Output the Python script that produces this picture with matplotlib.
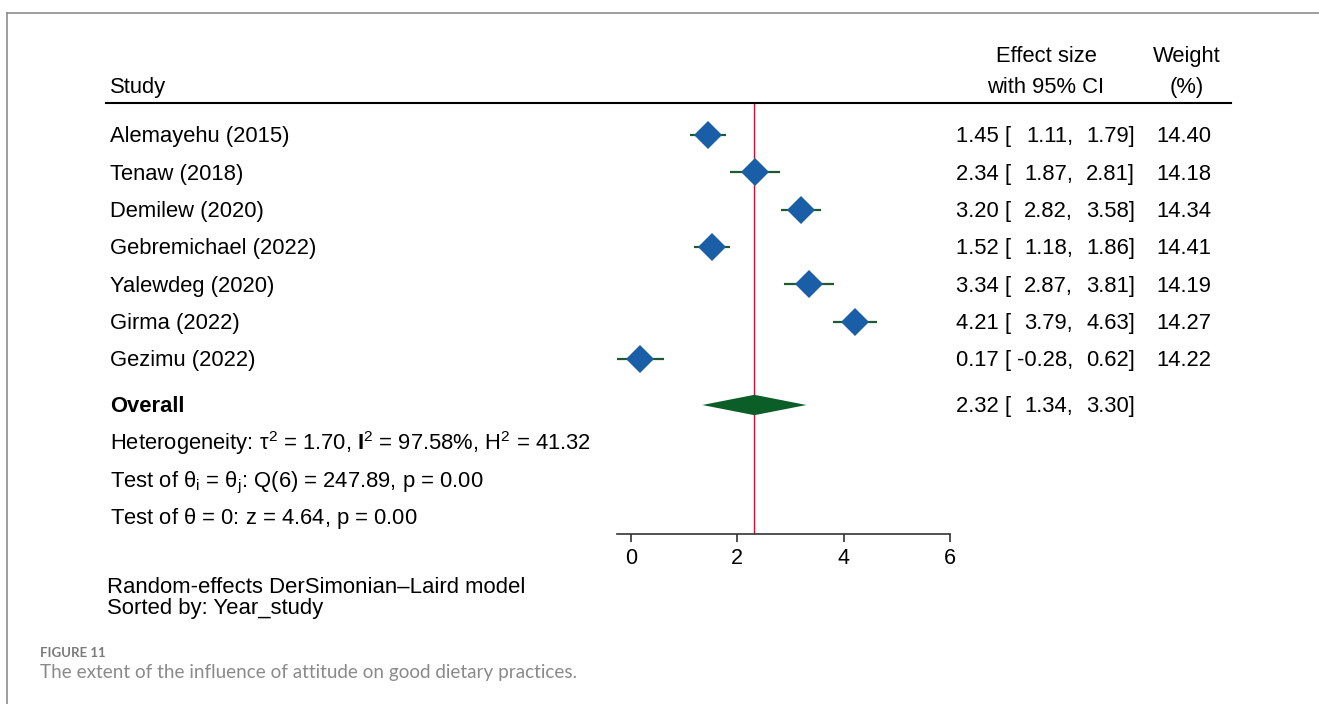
import matplotlib
matplotlib.use("Agg")
import matplotlib.pyplot as plt
from matplotlib.lines import Line2D
from matplotlib.patches import Polygon
from matplotlib.transforms import blended_transform_factory

plt.rcParams['font.family'] = ['Liberation Sans', 'DejaVu Sans']
plt.rcParams['mathtext.fontset'] = 'custom'
plt.rcParams['mathtext.rm'] = 'Liberation Sans'
plt.rcParams['mathtext.it'] = 'Liberation Sans'
plt.rcParams['mathtext.bf'] = 'Liberation Sans:bold'

# ---------------- data ----------------
studies = ["Alemayehu (2015)", "Tenaw (2018)", "Demilew (2020)", "Gebremichael (2022)",
           "Yalewdeg (2020)", "Girma (2022)", "Gezimu (2022)"]
effect = [1.45, 2.34, 3.20, 1.52, 3.34, 4.21, 0.17]
lower = [1.11, 1.87, 2.82, 1.18, 2.87, 3.79, -0.28]
upper = [1.79, 2.81, 3.58, 1.86, 3.81, 4.63, 0.62]
weight = [14.40, 14.18, 14.34, 14.41, 14.19, 14.27, 14.22]
overall = (2.32, 1.34, 3.30)
het_lines = [r"Heterogeneity: $\mathrm{\tau}^{2}$ = 1.70, $\mathbf{I}^{2}$ = 97.58%, $\mathrm{H}^{2}$ = 41.32",
             r"Test of $\mathrm{\theta}_{i}$ = $\mathrm{\theta}_{j}$: Q(6) = 247.89, p = 0.00",
             r"Test of $\mathrm{\theta}$ = 0: z = 4.64, p = 0.00"]
xticks = [0, 2, 4, 6]
footer = ["Random-effects DerSimonian\u2013Laird model", "Sorted by: Year_study"]
caption_title = "FIGURE 11"
caption_text = "The extent of the influence of attitude on good dietary practices."

# ---------------- layout ----------------
W, H = 1319, 704
fig = plt.figure(figsize=(W / 100, H / 100), dpi=100)

ROW0, ROWSTEP = 135.0, 37.33       # pixel y of first study row, spacing
def py(p):                          # image pixel y -> row units
    return (p - ROW0) / ROWSTEP

ax_left, ax_right = 616.7, 950.0
ax_top, ax_bot = 103.0, 534.0
ax = fig.add_axes([ax_left / W, 1 - ax_bot / H, (ax_right - ax_left) / W, (ax_bot - ax_top) / H])
ax.set_xlim(-0.27, 6.0)
ax.set_ylim(py(ax_bot), py(ax_top))
for s in ['top', 'left', 'right']:
    ax.spines[s].set_visible(False)
ax.spines['bottom'].set_color('#333333')
ax.spines['bottom'].set_linewidth(1.2)
ax.set_yticks([])
ax.set_xticks(xticks)
ax.set_xticklabels([str(t) for t in xticks])
ax.tick_params(axis='x', length=6, width=1.2, color='#333333', labelsize=15.5, pad=4)

fs = 15.8
BOFF = 0.2
tr = blended_transform_factory(fig.transFigure, ax.transData)
def fx(p):
    return p / W

# reference line at overall effect
ax.axvline(overall[0], color='#d0103a', lw=1.0, zorder=1)

# study rows
rows = list(range(len(studies)))
for i, (name, e, lo, hi, w) in enumerate(zip(studies, effect, lower, upper, weight)):
    y = rows[i]
    ax.plot([lo, hi], [y, y], color='#1e5b2f', lw=1.6, zorder=2, solid_capstyle='butt')
    ax.plot([e], [y], marker='D', color='#1b5ea8', markersize=14, markeredgewidth=0, zorder=3)
    base = y + BOFF
    ax.text(fx(110), base, name, transform=tr, fontsize=fs, va='baseline', ha='left')
    ax.text(fx(956), base, f"{e:.2f} [", transform=tr, fontsize=fs, va='baseline', ha='left')
    ax.text(fx(1073), base, f"{lo:.2f},", transform=tr, fontsize=fs, va='baseline', ha='right')
    ax.text(fx(1135), base, f"{hi:.2f}]", transform=tr, fontsize=fs, va='baseline', ha='right')
    ax.text(fx(1211), base, f"{w:.2f}", transform=tr, fontsize=fs, va='baseline', ha='right')

# overall diamond
yo = py(405)
half = py(405 + 10.2) - yo
oe, olo, ohi = overall
ax.add_patch(Polygon([[olo, yo], [oe, yo - half], [ohi, yo], [oe, yo + half]],
                     closed=True, facecolor='#0b5e28', edgecolor='none', zorder=3))
ob = yo + BOFF
ax.text(fx(110), ob, "Overall", transform=tr, fontsize=fs, va='baseline', ha='left', fontweight='bold')
ax.text(fx(956), ob, f"{oe:.2f} [", transform=tr, fontsize=fs, va='baseline', ha='left')
ax.text(fx(1073), ob, f"{olo:.2f},", transform=tr, fontsize=fs, va='baseline', ha='right')
ax.text(fx(1135), ob, f"{ohi:.2f}]", transform=tr, fontsize=fs, va='baseline', ha='right')

# heterogeneity lines
for k, txt in enumerate(het_lines):
    ax.text(fx(110), py(450 + k * 37), txt, transform=tr, fontsize=fs, va='baseline', ha='left')

# headers
ax.text(fx(110), py(93), "Study", transform=tr, fontsize=fs, va='baseline', ha='left')
ax.text(fx(1046), py(62), "Effect size", transform=tr, fontsize=fs, va='baseline', ha='center')
ax.text(fx(1046), py(93), "with 95% CI", transform=tr, fontsize=fs, va='baseline', ha='center')
ax.text(fx(1187), py(62), "Weight", transform=tr, fontsize=fs, va='baseline', ha='center')
ax.text(fx(1187), py(93), "(%)", transform=tr, fontsize=fs, va='baseline', ha='center')
fig.add_artist(Line2D([fx(106), fx(1231)], [1 - 103 / H, 1 - 103 / H], color='black', lw=1.5,
                      transform=fig.transFigure))

# footer notes
fig.text(fx(107), 1 - 593 / H, footer[0], fontsize=15.9, va='baseline', ha='left')
fig.text(fx(107), 1 - 614 / H, footer[1], fontsize=15.9, va='baseline', ha='left')

# caption
fig.text(fx(40), 1 - 657 / H, caption_title, fontsize=9.5, va='baseline', ha='left',
         color='#7a7a7a', family=['Lato', 'DejaVu Sans'], fontweight='bold')
fig.text(fx(40), 1 - 678 / H, caption_text, fontsize=13.6, va='baseline', ha='left',
         color='#8a8a8a', family=['Lato', 'DejaVu Sans'])

# outer frame (top and left)
fig.add_artist(Line2D([fx(6.5), 1.0], [1 - 12.5 / H, 1 - 12.5 / H], color='#8c8c8c', lw=1.2,
                      transform=fig.transFigure))
fig.add_artist(Line2D([fx(6.5), fx(6.5)], [0, 1 - 12.5 / H], color='#8c8c8c', lw=1.2,
                      transform=fig.transFigure))

fig.savefig("out.png", dpi=100)
